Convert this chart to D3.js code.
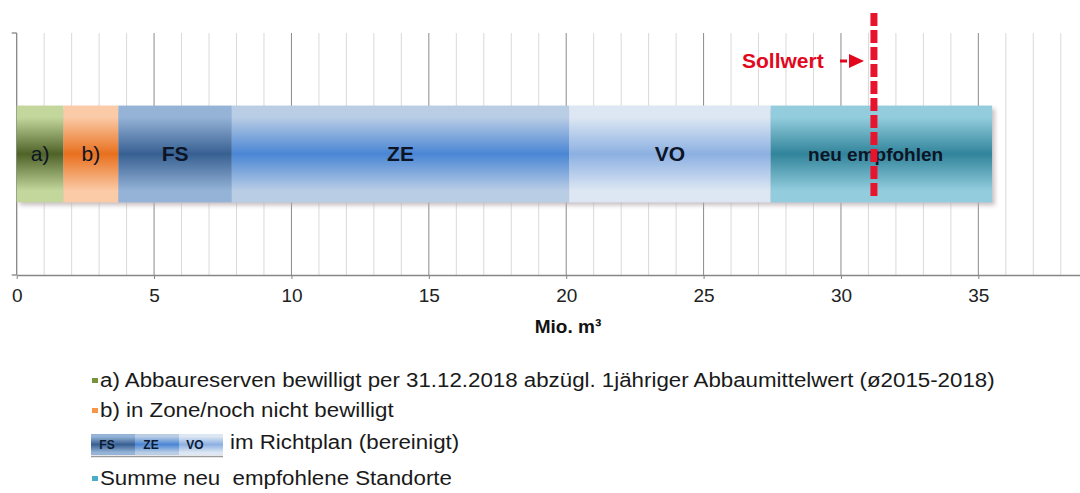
<!DOCTYPE html>
<html>
<head>
<meta charset="utf-8">
<script src="https://cdn.jsdelivr.net/npm/d3@7"></script>
<style>
  body { margin: 0; background: #fff; }
  svg { display: block; font-family: "Liberation Sans", Arial, sans-serif; }
</style>
</head>
<body>
<svg id="chart" width="1080" height="493"></svg>
<script>
// data (Mio. m3)
const segments = ["a)", "b)", "FS", "ZE", "VO", "neu empfohlen"];
const values = [1.7, 2.0, 4.13, 12.28, 7.33, 8.06];
const boldLabel = [false, false, true, true, true, true];
const sollwert = 31.2;
const xTicks = [0, 5, 10, 15, 20, 25, 30, 35];
const minorTicks = d3.range(1, 39);
const axisTitle = "Mio. m³";
const legendItems = [
  "a) Abbaureserven bewilligt per 31.12.2018 abzügl. 1jähriger Abbaumittelwert (ø2015-2018)",
  "b) in Zone/noch nicht bewilligt",
  "im Richtplan (bereinigt)",
  "Summe neu  empfohlene Standorte"
];

// gradient colours per segment: [edge, middle]
const gradColors = [
  ["#c3d69b", "#4f6228"],
  ["#fbcaa6", "#e8701e"],
  ["#95b3d7", "#376092"],
  ["#b9cde5", "#4a86d4"],
  ["#dde7f3", "#8cb0e2"],
  ["#93cddd", "#31849b"]
];
const legendMarks = ["#77933c", "#f79646", null, "#4bacc6"];

const svg = d3.select("#chart");
const defs = svg.append("defs");

gradColors.forEach((c, i) => {
  const g = defs.append("linearGradient")
    .attr("id", "grad" + i)
    .attr("x1", 0).attr("y1", 0).attr("x2", 0).attr("y2", 1);
  g.append("stop").attr("offset", "0%").attr("stop-color", c[0]);
  g.append("stop").attr("offset", "12%").attr("stop-color", c[0]);
  g.append("stop").attr("offset", "50%").attr("stop-color", c[1]);
  g.append("stop").attr("offset", "88%").attr("stop-color", c[0]);
  g.append("stop").attr("offset", "100%").attr("stop-color", c[0]);
});

const blur = defs.append("filter").attr("id", "shadow")
  .attr("x", "-5%").attr("y", "-20%").attr("width", "110%").attr("height", "140%");
blur.append("feGaussianBlur").attr("stdDeviation", 2);

const x = d3.scaleLinear().domain([0, 38.7]).range([16.7, 1080]);
const y = d3.scaleBand().domain(["total"]).range([33, 275])
  .paddingInner(0.6).paddingOuter(0.3);

// stacked starts
let acc = 0;
const stack = values.map((v, i) => {
  const s = { name: segments[i], x0: acc, x1: acc + v, i: i };
  acc += v;
  return s;
});

// gridlines
svg.append("g").selectAll("line")
  .data(minorTicks.filter(d => d % 5 !== 0))
  .enter().append("line")
  .attr("x1", d => x(d)).attr("x2", d => x(d))
  .attr("y1", 33).attr("y2", 275)
  .attr("stroke", "#d9d9d9").attr("stroke-width", 1);

svg.append("g").selectAll("line")
  .data(xTicks.filter(d => d > 0))
  .enter().append("line")
  .attr("x1", d => x(d)).attr("x2", d => x(d))
  .attr("y1", 33).attr("y2", 275)
  .attr("stroke", "#8a8a8a").attr("stroke-width", 1);

// y axis line with end ticks
svg.append("line")
  .attr("x1", x(0)).attr("x2", x(0)).attr("y1", 33).attr("y2", 275)
  .attr("stroke", "#868686").attr("stroke-width", 1.3);
svg.append("line")
  .attr("x1", x(0) - 5).attr("x2", x(0)).attr("y1", 33).attr("y2", 33)
  .attr("stroke", "#868686").attr("stroke-width", 1.3);
svg.append("line")
  .attr("x1", x(0) - 5).attr("x2", x(0)).attr("y1", 275).attr("y2", 275)
  .attr("stroke", "#868686").attr("stroke-width", 1.3);

// x axis
const xAxis = svg.append("g")
  .attr("transform", "translate(0,275)")
  .call(d3.axisBottom(x).tickValues(xTicks).tickSize(4).tickPadding(10).tickSizeOuter(0));
xAxis.select(".domain").attr("stroke", "#868686").attr("stroke-width", 1.3);
xAxis.selectAll(".tick line").attr("stroke", "#868686");
xAxis.selectAll("text")
  .attr("font-size", 19)
  .attr("font-family", "Liberation Sans, Arial, sans-serif")
  .attr("fill", "#222");

svg.append("text")
  .attr("x", 568).attr("y", 333)
  .attr("text-anchor", "middle")
  .attr("font-size", 19).attr("font-weight", "bold")
  .attr("fill", "#111")
  .text(axisTitle);

// bar shadow
const bx0 = x(0), bx1 = x(acc);
svg.append("rect")
  .attr("x", bx0 + 3).attr("y", y("total") + 3)
  .attr("width", bx1 - bx0).attr("height", y.bandwidth())
  .attr("fill", "#b5a9ad").attr("opacity", 0.7)
  .attr("filter", "url(#shadow)");

// bars
svg.append("g").selectAll("rect")
  .data(stack)
  .enter().append("rect")
  .attr("x", d => x(d.x0))
  .attr("y", y("total"))
  .attr("width", d => x(d.x1) - x(d.x0))
  .attr("height", y.bandwidth())
  .attr("fill", d => "url(#grad" + d.i + ")");

// bar labels
svg.append("g").selectAll("text")
  .data(stack)
  .enter().append("text")
  .attr("x", d => d.i === 5 ? x(d.x0) + 37 + 68 : (x(d.x0) + x(d.x1)) / 2)
  .attr("y", y("total") + y.bandwidth() / 2 + 7)
  .attr("text-anchor", "middle")
  .attr("font-size", d => d.i === 5 ? 19 : 21)
  .attr("font-weight", d => boldLabel[d.i] ? "bold" : "normal")
  .attr("fill", "#0c1526")
  .text(d => d.name);

// Sollwert line
svg.append("line")
  .attr("x1", x(sollwert)).attr("x2", x(sollwert))
  .attr("y1", 13).attr("y2", 198)
  .attr("stroke", "#e8142e").attr("stroke-width", 7)
  .attr("stroke-dasharray", "13,4");

svg.append("text")
  .attr("x", 742).attr("y", 68)
  .attr("font-size", 21).attr("font-weight", "bold")
  .attr("fill", "#e3071d")
  .text("Sollwert");
svg.append("line")
  .attr("x1", 840).attr("x2", 847).attr("y1", 61).attr("y2", 61)
  .attr("stroke", "#e3071d").attr("stroke-width", 3);
svg.append("path")
  .attr("d", "M849,54 L864,61 L849,68 Z")
  .attr("fill", "#e3071d");

// legend (text in the picture is a bit wider than Arial, so stretch it)
const legendY = [387, 417, 449, 485];
const stretch = 1.115;
legendItems.forEach((t, i) => {
  const tx = legendMarks[i] ? 100 : 230;
  if (legendMarks[i]) {
    svg.append("rect")
      .attr("x", 92).attr("y", legendY[i] - 9)
      .attr("width", 6).attr("height", 5)
      .attr("fill", legendMarks[i]);
  } else {
    const parts = [["FS", 2], ["ZE", 3], ["VO", 4]];
    svg.append("line")
      .attr("x1", 91).attr("x2", 223).attr("y1", 456.5).attr("y2", 456.5)
      .attr("stroke", "#9a9a9a").attr("stroke-width", 1.5);
    parts.forEach((p, k) => {
      svg.append("rect")
        .attr("x", 91 + k * 44).attr("y", 434)
        .attr("width", 44).attr("height", 21)
        .attr("fill", "url(#grad" + p[1] + ")");
      svg.append("text")
        .attr("x", 91 + k * 44 + 16).attr("y", 449)
        .attr("text-anchor", "middle")
        .attr("font-size", 12).attr("font-weight", "bold")
        .attr("fill", "#0c1a33")
        .text(p[0]);
    });
  }
  svg.append("text")
    .attr("transform", "translate(" + tx + "," + legendY[i] + ") scale(" + stretch + ",1)")
    .attr("font-size", 20).attr("fill", "#1a1a1a")
    .style("white-space", "pre")
    .text(t);
});
</script>
</body>
</html>
